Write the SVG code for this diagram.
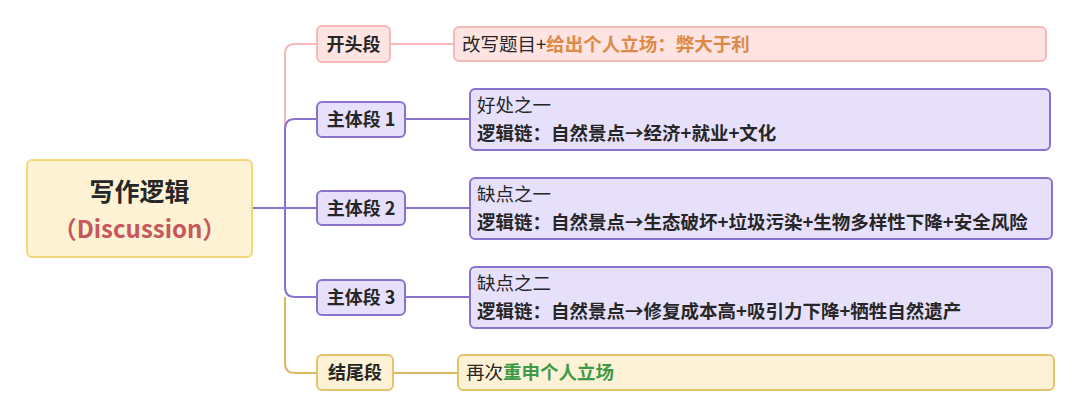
<svg xmlns="http://www.w3.org/2000/svg" width="1080" height="407" viewBox="0 0 1080 407">
<style>
text{font-family:"Noto Sans CJK SC","Noto Sans",sans-serif;fill:#262626}
.b{font-weight:bold}
.t{font-size:18.5px}
.lbl{font-size:18px;font-weight:bold}
.pk{fill:#fde3e2;stroke:#f7b9b8;stroke-width:2}
.pu{fill:#e6e0fb;stroke:#8a73cf;stroke-width:2}
.go{fill:#fdf2d5;stroke:#e3c36c;stroke-width:2}
.c{fill:none;stroke-width:2}
</style>
<rect width="1080" height="407" fill="#fff"/>
<g id="connectors">
<path class="c" stroke="#f7b9b8" d="M285 208 V54 Q285 44 295 44 H317 M390 44 H454"/>
<path class="c" stroke="#8a73cf" d="M252 208 H317 M285 208 V129 Q285 119 295 119 H317 M285 208 V287 Q285 297 295 297 H317 M405 119 H470 M405 208 H470 M405 297 H470"/>
<path class="c" stroke="#d9b862" d="M285 297 V363 Q285 373 295 373 H317 M393 373 H458"/>
</g>
<g id="root"><rect x="27" y="160" width="225" height="97" rx="5" fill="#fdf3d4" stroke="#f5d77b" stroke-width="2"/>
<text x="139.5" y="201" text-anchor="middle" font-size="25" class="b">写作逻辑</text>
<text x="139.5" y="238" text-anchor="middle" font-size="24" class="b" style="fill:#c9565a">（Discussion）</text></g>
<g id="n1"><rect class="pk" x="317" y="26" width="73" height="36" rx="5"/><text x="353.5" y="51" text-anchor="middle" class="lbl">开头段</text></g>
<g id="n2"><rect class="pu" x="317" y="102" width="88" height="35" rx="5"/><text x="361" y="126" text-anchor="middle" class="lbl">主体段 1</text></g>
<g id="n3"><rect class="pu" x="317" y="191" width="88" height="34" rx="5"/><text x="361" y="215" text-anchor="middle" class="lbl">主体段 2</text></g>
<g id="n4"><rect class="pu" x="317" y="280" width="88" height="35" rx="5"/><text x="361" y="304" text-anchor="middle" class="lbl">主体段 3</text></g>
<g id="n5"><rect class="go" x="317" y="355" width="76" height="35" rx="5"/><text x="355" y="379" text-anchor="middle" class="lbl">结尾段</text></g>
<g id="d1"><rect class="pk" x="454" y="27" width="592" height="34" rx="5"/><text x="462" y="51" class="t">改写题目+<tspan class="b" style="fill:#dc8a45">给出个人立场：弊大于利</tspan></text></g>
<g id="d2"><rect class="pu" x="470" y="89" width="580" height="61" rx="5"/><text x="477" y="112" class="t">好处之一</text><text x="477" y="140" class="t b">逻辑链：自然景点→经济+就业+文化</text></g>
<g id="d3"><rect class="pu" x="470" y="178" width="582" height="61" rx="5"/><text x="477" y="201" class="t">缺点之一</text><text x="477" y="229" class="t b">逻辑链：自然景点→生态破坏+垃圾污染+生物多样性下降+安全风险</text></g>
<g id="d4"><rect class="pu" x="470" y="267" width="582" height="61" rx="5"/><text x="477" y="290" class="t">缺点之二</text><text x="477" y="318" class="t b">逻辑链：自然景点→修复成本高+吸引力下降+牺牲自然遗产</text></g>
<g id="d5"><rect class="go" x="458" y="355" width="596" height="35" rx="5"/><text x="466" y="379" class="t">再次<tspan class="b" style="fill:#3f9a47">重申个人立场</tspan></text></g>
</svg>
